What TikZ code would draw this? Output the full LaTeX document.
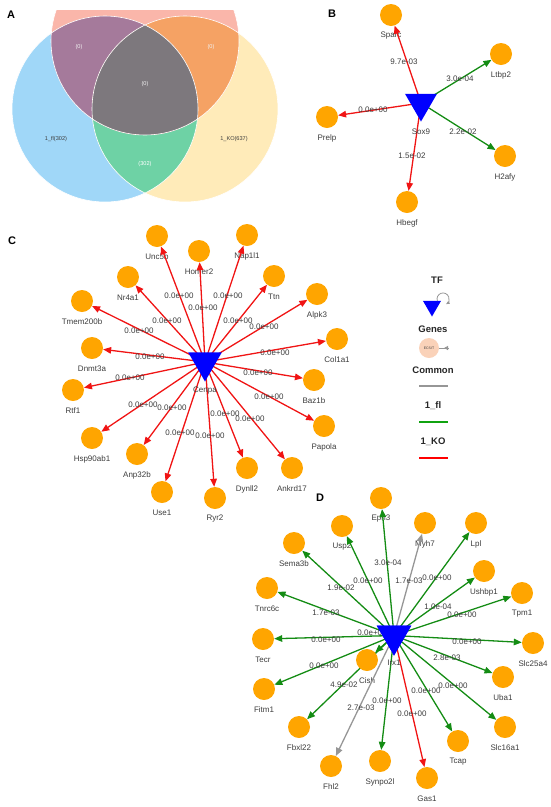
\documentclass[tikz,border=0pt]{standalone}
\usepackage{fontspec}
\setmainfont{Liberation Sans}
\usetikzlibrary{shapes.geometric,arrows.meta}
\definecolor{orng}{RGB}{255,165,0}
\definecolor{tfblue}{RGB}{0,0,255}
\definecolor{ered}{RGB}{240,20,20}
\definecolor{egreen}{RGB}{20,140,20}
\definecolor{egrey}{RGB}{150,150,150}
\definecolor{txt}{RGB}{60,60,60}
\definecolor{peach}{RGB}{250,210,185}
\definecolor{vred}{RGB}{250,182,170}
\definecolor{vblue}{RGB}{160,215,248}
\definecolor{vyel}{RGB}{255,235,185}
\definecolor{vpur}{RGB}{165,122,155}
\definecolor{vora}{RGB}{245,162,100}
\definecolor{vgrey}{RGB}{125,120,125}
\definecolor{vgreen}{RGB}{110,210,165}
\pgfdeclarelayer{lbls}
\pgfdeclarelayer{edges}
\pgfsetlayers{lbls,edges,main}
\tikzset{
 gene/.style={circle,fill=orng,minimum size=22pt,inner sep=0pt},
 glbl/.style={font=\fontsize{8}{9}\selectfont,text=txt,inner sep=0pt},
 elbl/.style={font=\fontsize{8}{9}\selectfont,text=txt,inner sep=0pt},
 vlbl/.style={font=\fontsize{5.6}{6}\selectfont,inner sep=0pt},
 tf/.style={regular polygon,regular polygon sides=3,shape border rotate=180,fill=tfblue,inner sep=0pt},
 conn/.style={line width=1.3pt,-{Triangle[length=8pt,width=6.5pt]}},
 panel/.style={font=\fontsize{11}{12}\selectfont\bfseries,inner sep=0pt},
 legt/.style={font=\fontsize{9.5}{11}\selectfont\bfseries,inner sep=0pt,text=black!85},
}
\begin{document}
\begin{tikzpicture}[x=1pt,y=-1pt]
\useasboundingbox (0,0) rectangle (550,807);
% ---------- Panel A : Venn ----------
\begin{scope}
\clip (0,10) rectangle (290,201);
\fill[vblue] (105,109) circle[radius=93];
\fill[vyel] (185,109) circle[radius=93];
\begin{scope}
\clip (105,109) circle[radius=93];
\fill[vgreen] (185,109) circle[radius=93];
\end{scope}
\fill[vred] (145,41) circle[radius=94];
\begin{scope}
\clip (145,41) circle[radius=94];
\fill[vpur] (105,109) circle[radius=93];
\fill[vora] (185,109) circle[radius=93];
\clip (105,109) circle[radius=93];
\fill[vgrey] (185,109) circle[radius=93];
\end{scope}
\draw[white,line width=0.6pt] (105,109) circle[radius=93] (185,109) circle[radius=93] (145,41) circle[radius=94];
\end{scope}
\node[panel] (pA) at (11,15) {A};
\node[vlbl,text=white!90!gray] (vA1) at (79,47) {(0)};
\node[vlbl,text=white!90!gray] (vA2) at (211,47) {(0)};
\node[vlbl,text=white!90!gray] (vA3) at (145,84) {(0)};
\node[vlbl,text=txt] (vA4) at (56,139) {1\_fl(302)};
\node[vlbl,text=white] (vA5) at (145,164) {(302)};
\node[vlbl,text=txt] (vA6) at (234,139) {1\_KO(637)};
% ---------- Panel B ----------
\node[panel] (pB) at (332,14) {B};
\node[tf,minimum size=37pt] (hB) at (421,103) {};
\foreach \n/\x/\y in {Sparc/391/15,Ltbp2/501/54,Prelp/327/117,H2afy/505/156,Hbegf/407/202}{
  \node[gene] (\n) at (\x,\y) {};
  \begin{pgfonlayer}{lbls}\node[glbl] (\n-t) at (\x,{\y+21}) {\n};\end{pgfonlayer}
}
\node[glbl] (hB-t) at (421,132) {Sox9};
\begin{pgfonlayer}{edges}
\foreach \n/\c/\lx/\ly/\t in {Sparc/ered/404/62/9.7e-03,Ltbp2/egreen/460/79/3.0e-04,Prelp/ered/373/110/0.0e+00,H2afy/egreen/463/132/2.2e-02,Hbegf/ered/412/156/1.5e-02}{
  \draw[conn,color=\c] (hB.center) -- (\n);
  \node[elbl] (\n-e) at (\lx,\ly) {\t};
}
\end{pgfonlayer}
% ---------- Panel C ----------
\node[panel] (pC) at (12,241) {C};
\node[tf,minimum size=39pt] (hC) at (205,362) {};
\foreach \n/\x/\y in {Unc5b/157/236,Homer2/199/251,Nap1l1/247/235,Ttn/274/276,Alpk3/317/294,Col1a1/337/339,Baz1b/314/380,Papola/324/426,Ankrd17/292/468,Dynll2/247/468,Ryr2/215/498,Use1/162/492,Anp32b/137/454,Hsp90ab1/92/438,Rtf1/73/390,Dnmt3a/92/348,Tmem200b/82/301,Nr4a1/128/277}{
  \node[gene] (\n) at (\x,\y) {};
  \begin{pgfonlayer}{lbls}\node[glbl] (\n-t) at (\x,{\y+21}) {\n};\end{pgfonlayer}
}
\node[glbl] (hC-t) at (205,391) {Cenpa};
\begin{pgfonlayer}{edges}
\foreach \n/\lx/\ly in {Unc5b/179/296,Homer2/203/308,Nap1l1/228/296,Ttn/238/321,Alpk3/264/327,Col1a1/275/353,Baz1b/258/373,Papola/269/397,Ankrd17/250/419,Dynll2/225/414,Ryr2/210/436,Use1/180/433,Anp32b/172/408,Hsp90ab1/143/405,Rtf1/130/378,Dnmt3a/150/357,Tmem200b/139/331,Nr4a1/167/321}{
  \draw[conn,color=ered] (hC.center) -- (\n);
  \node[elbl] (\n-e) at (\lx,\ly) {0.0e+00};
}
\end{pgfonlayer}
% ---------- Legend ----------
\node[legt] (lTF) at (437,280) {TF};
\node[tf,minimum size=21pt] (lTri) at (432,306) {};
\draw[egrey,line width=0.8pt,-{Triangle[length=3.5pt,width=3pt]}] (437.4,301) arc[start angle=160,end angle=420,radius=6];
\node[legt] (lGenes) at (433,329) {Genes};
\node[circle,fill=peach,minimum size=20pt,inner sep=0pt,font=\fontsize{3.5}{4}\selectfont,text=txt] (lG) at (429,348) {ECSIT};
\coordinate (lGa) at (449,348);
\coordinate (lGb) at (444,348);
\draw[egrey,line width=1pt] (lG) -- (lGa);
\draw[egrey,line width=1pt,-{Triangle[length=4pt,width=4pt]}] (lGa) -- (lGb);
\node[legt] (lCom) at (433,370) {Common};
\coordinate (l1a) at (419,386); \coordinate (l1b) at (448,386);
\draw[egrey,line width=2.5pt] (l1a) -- (l1b);
\node[legt] (lfl) at (433,406) {1\_fl};
\coordinate (l2a) at (419,422); \coordinate (l2b) at (448,422);
\draw[egreen!80!green,line width=2.5pt] (l2a) -- (l2b);
\node[legt] (lKO) at (433,442) {1\_KO};
\coordinate (l3a) at (419,458); \coordinate (l3b) at (448,458);
\draw[red,line width=2.5pt] (l3a) -- (l3b);
% ---------- Panel D ----------
\node[panel] (pD) at (320,498) {D};
\node[tf,minimum size=40pt] (hD) at (394,635.5) {};
\foreach \n/\x/\y in {Epn3/381/498,Myh7/425/523,Lpl/476/523,Ushbp1/484/571,Tpm1/522/593,Slc25a4/533/643,Uba1/503/677,Slc16a1/505/727,Tcap/458/741,Gas1/427/778,Synpo2l/380/761,Fhl2/331/766,Fbxl22/299/727,Fitm1/264/689,Tecr/263/639,Cish/367/660,Tnrc6c/267/588,Sema3b/294/543,Usp2/342/526}{
  \node[gene] (\n) at (\x,\y) {};
  \begin{pgfonlayer}{lbls}\node[glbl] (\n-t) at (\x,{\y+21}) {\n};\end{pgfonlayer}
}
\begin{pgfonlayer}{edges}
\foreach \n/\c in {Epn3/egreen,Myh7/egrey,Usp2/egreen,Lpl/egreen,Sema3b/egreen,Ushbp1/egreen,Tnrc6c/egreen,Tpm1/egreen,Cish/egreen,Tecr/egreen,Slc25a4/egreen,Fitm1/egreen,Uba1/egreen,Fbxl22/egreen,Slc16a1/egreen,Tcap/egreen,Synpo2l/egreen,Fhl2/egrey,Gas1/ered}{
  \draw[conn,color=\c] (hD.center) -- (\n);
}
\end{pgfonlayer}
\foreach \n/\lx/\ly/\t in {Epn3/388/563/3.0e-04,Myh7/409/581/1.7e-03,Usp2/368/581/0.0e+00,Lpl/437/578/0.0e+00,Sema3b/341/588/1.9e-02,Ushbp1/438/607/1.0e-04,Tnrc6c/326/613/1.7e-03,Tpm1/462/615/0.0e+00,Cish/372/633/0.0e+00,Tecr/326/640/0.0e+00,Slc25a4/467/642/0.0e+00,Fitm1/324/666/0.0e+00,Uba1/447/658/2.8e-03,Fbxl22/344/685/4.9e-02,Slc16a1/453/686/0.0e+00,Tcap/426/691/0.0e+00,Synpo2l/387/701/0.0e+00,Fhl2/361/708/2.7e-03,Gas1/412/714/0.0e+00}{
  \node[elbl] (\n-e) at (\lx,\ly) {\t};
}
\node[tf,minimum size=40pt] (hDtop) at (hD) {};
\node[glbl] (hD-t) at (394,663) {Irx1};
\end{tikzpicture}
\end{document}
